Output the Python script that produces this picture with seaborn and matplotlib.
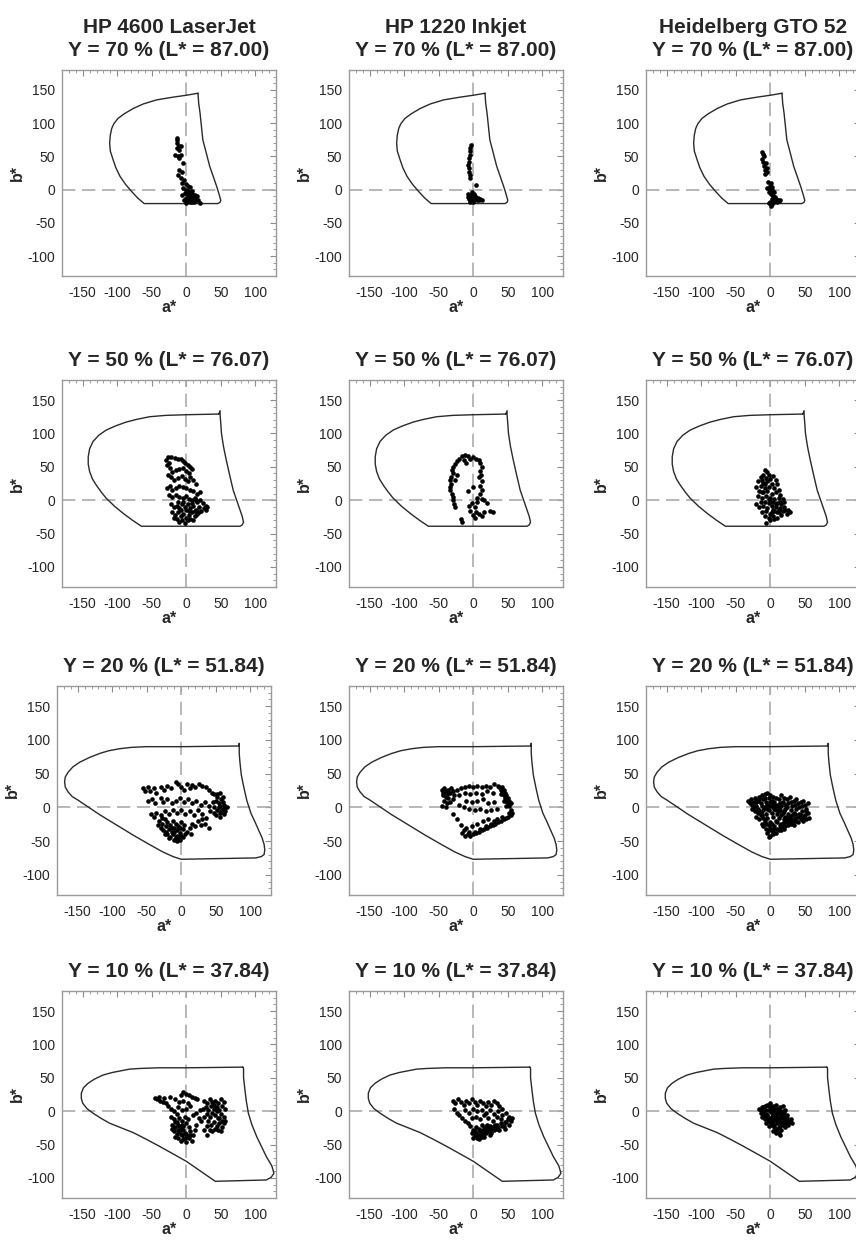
import matplotlib
matplotlib.use("Agg")
import matplotlib.pyplot as plt
import seaborn as sns
from matplotlib.ticker import MultipleLocator

# ==========================================
# Labels
# ==========================================
devices = ["HP 4600 LaserJet", "HP 1220 Inkjet", "Heidelberg GTO 52"]
levels = ["Y = 70 % (L* = 87.00)", "Y = 50 % (L* = 76.07)",
          "Y = 20 % (L* = 51.84)", "Y = 10 % (L* = 37.84)"]
x_ticks = [-150, -100, -50, 0, 50, 100]
y_ticks = [-100, -50, 0, 50, 100, 150]

# ==========================================
# Gamut boundaries (a*, b*) per lightness slice
# ==========================================
gamut_87 = [(17, 145), (0, 142), (-20, 139), (-43, 135), (-62, 129), (-77, 122),
            (-90, 114), (-99, 107), (-105, 99), (-108, 92), (-110, 82), (-111, 70),
            (-110, 58), (-106, 45), (-102, 33), (-96, 20), (-88, 8), (-79, -3),
            (-70, -13), (-61, -21), (46, -21), (49, -19), (50, -16), (47, -5),
            (44, 5), (39, 20), (34, 35), (29, 55), (24, 75), (22, 95), (20, 115),
            (18, 130), (17, 145)]
gamut_76 = [(47, 129), (0, 128), (-30, 127), (-53, 125), (-72, 121), (-87, 117),
            (-103, 111), (-116, 105), (-127, 97), (-135, 88), (-140, 77), (-142, 65),
            (-142, 54), (-140, 43), (-136, 32), (-130, 22), (-123, 12), (-116, 3),
            (-104, -9), (-91, -20), (-78, -30), (-65, -39), (78, -39), (81, -37),
            (83, -33), (81, -24), (78, -15), (73, 0), (68, 15), (63, 37), (58, 60),
            (54, 80), (51, 100), (50, 115), (49, 128), (49, 134), (47, 129)]
gamut_52 = [(84, 91), (0, 90), (-51, 90), (-72, 89), (-89, 87), (-105, 84),
            (-118, 80), (-133, 74), (-147, 67), (-157, 60), (-164, 52), (-168, 45),
            (-169, 38), (-168, 30), (-164, 23), (-158, 16), (-150, 11), (-134, 0),
            (-118, -11), (-94, -26), (-70, -41), (-48, -54), (-27, -66), (-12, -73),
            (-3, -76), (0, -77), (108, -75), (116, -73), (120, -70), (121, -63),
            (120, -55), (117, -45), (113, -36), (107, -22), (101, -9), (95, 10),
            (91, 28), (87, 48), (85, 67), (84, 80), (84, 91), (84, 95), (83, 91)]
gamut_38 = [(82, 66), (0, 65), (-40, 65), (-67, 64), (-82, 63), (-92, 61),
            (-107, 58), (-121, 54), (-133, 48), (-142, 42), (-149, 35), (-152, 27),
            (-152, 19), (-150, 12), (-144, 4), (-135, -3), (-123, -11), (-111, -18),
            (-94, -25), (-77, -32), (-58, -42), (-38, -53), (-19, -64), (0, -75),
            (21, -90), (42, -105), (116, -103), (123, -99), (127, -93), (124, -82),
            (116, -68), (109, -53), (102, -38), (95, -20), (90, -3), (87, 15),
            (85, 32), (83, 50), (83, 64), (82, 66)]

# ==========================================
# Measured samples (a*, b*)
# ==========================================
laser_87 = [(-14, 78), (-13, 74), (-14, 70), (-11, 66), (-8, 65), (-14, 62), (-10, 60),
            (-17, 52), (-12, 50), (-7, 52), (-10, 47), (-5, 40), (-10, 30), (-6, 26),
            (-12, 22), (-8, 18), (-3, 15), (-6, 10), (-1, 8), (2, 6), (5, 4), (-4, 2),
            (0, 0), (3, -2), (6, -3), (-2, -5), (1, -7), (4, -8), (8, -6), (10, -9),
            (-1, -12), (3, -13), (6, -12), (9, -14), (12, -12), (14, -15), (2, -17),
            (5, -18), (8, -19), (0, -20), (11, -18), (17, -16), (20, -20), (-3, -16),
            (7, -10), (13, -8), (-6, -8), (15, -10), (1, -3), (9, -2)]
inkjet_87 = [(-3, 67), (-5, 63), (-4, 58), (-5, 52), (-6, 47), (-6, 42), (-7, 37),
             (-6, 32), (-6, 27), (-5, 22), (-4, 17), (4, 7), (-7, -6), (-5, -8),
             (-3, -9), (-8, -11), (-4, -12), (-1, -11), (2, -10), (4, -13), (7, -12),
             (10, -14), (12, -16), (-2, -15), (0, -17), (-4, -18), (-6, -14), (1, -6),
             (-2, -4), (5, -15), (8, -15), (-1, -19)]
offset_87 = [(-12, 57), (-11, 53), (-9, 50), (-12, 46), (-10, 42), (-6, 40), (-9, 36),
             (-5, 33), (-8, 30), (-4, 27), (-7, 24), (-3, 12), (1, 10), (-1, 6), (3, 4),
             (-4, 2), (0, 0), (3, -1), (6, -3), (-2, -4), (1, -7), (4, -9), (7, -11),
             (9, -14), (11, -15), (13, -17), (5, -16), (2, -14), (0, -18), (-2, -20),
             (3, -22), (1, -25), (6, -19), (8, -17), (14, -16), (10, -18)]

laser_76 = [(-30, 60), (-27, 64), (-22, 65), (-17, 63), (-12, 62), (-8, 61), (-4, 59),
            (-2, 56), (3, 53), (6, 50), (8, 46), (-25, 55), (-28, 52), (-24, 48),
            (-20, 42), (-15, 45), (-10, 47), (-4, 48), (0, 44), (4, 40), (-26, 38),
            (-22, 34), (-18, 30), (-12, 33), (-6, 36), (-2, 32), (2, 28), (6, 34),
            (10, 30), (14, 25), (-24, 22), (-28, 18), (-20, 15), (-15, 18), (-10, 22),
            (-5, 20), (0, 18), (5, 16), (10, 14), (15, 10), (20, 12), (-25, 8), (-20, 5),
            (-15, 8), (-10, 5), (-5, 3), (0, 6), (4, 2), (8, 0), (12, 4), (16, -2),
            (20, 0), (24, -4), (28, -8), (-22, -5), (-18, -10), (-14, -8), (-10, -12),
            (-6, -6), (-2, -10), (2, -5), (6, -12), (10, -8), (14, -14), (18, -10),
            (22, -16), (26, -12), (-20, -18), (-16, -22), (-12, -18), (-8, -24),
            (-4, -20), (0, -26), (4, -22), (8, -18), (12, -24), (16, -20), (-14, -28),
            (-10, -32), (-6, -30), (-2, -34), (2, -30), (6, -28), (10, -30), (-18, -26),
            (-8, -14), (-4, -2), (0, -14), (4, -16), (8, -4), (12, -16), (-12, -2),
            (14, 0), (18, -18), (28, -14), (30, -10)]
inkjet_76 = [(-16, 66), (-12, 68), (-8, 66), (-4, 62), (0, 64), (4, 62), (8, 60),
             (10, 55), (12, 50), (10, 44), (-20, 62), (-24, 58), (-27, 54), (-29, 50),
             (-31, 45), (-30, 40), (-32, 35), (-33, 30), (-32, 25), (-34, 20), (-33, 15),
             (-31, 10), (-30, 5), (-30, 0), (-28, -5), (-26, -10), (11, 38), (8, 34),
             (12, 28), (10, 22), (12, 16), (10, 10), (6, 4), (12, 2), (16, 0), (0, 20),
             (-8, 14), (-2, -4), (-6, -8), (2, -10), (-4, -16), (4, -18), (-1, -22),
             (3, -26), (8, -20), (12, -24), (-18, -28), (-16, -32), (16, -18), (20, -4),
             (24, -16), (28, -18), (6, -2), (-10, 56), (-14, 60), (-24, 38), (-27, 30)]
offset_76 = [(-8, 45), (-4, 42), (-10, 38), (-2, 38), (4, 36), (-14, 34), (-6, 33),
             (0, 32), (8, 30), (-18, 28), (-10, 26), (-4, 28), (2, 25), (10, 24),
             (-20, 20), (-14, 22), (-8, 18), (-2, 20), (6, 18), (12, 16), (-16, 14),
             (-10, 12), (-4, 14), (2, 10), (8, 12), (14, 8), (-18, 6), (-12, 4), (-6, 6),
             (0, 4), (6, 2), (12, 4), (18, 2), (-14, -2), (-8, -2), (-2, -4), (4, -2),
             (10, -4), (16, -6), (20, -2), (-16, -10), (-10, -8), (-4, -12), (2, -8),
             (8, -10), (14, -12), (20, -10), (26, -14), (-12, -18), (-6, -16), (0, -20),
             (6, -16), (12, -18), (18, -16), (24, -20), (28, -18), (-8, -24), (-2, -26),
             (4, -24), (10, -26), (16, -22), (-6, -34), (0, -30), (6, -28), (12, -14),
             (-12, 12), (-20, -6), (0, -2), (8, -6), (4, -14), (10, -18), (14, -2),
             (22, -14), (2, -18), (-2, 2), (-8, 24), (-12, 30)]

laser_52 = [(-55, 28), (-52, 25), (-48, 30), (-45, 24), (-40, 28), (-36, 22), (-30, 30),
            (-25, 26), (-20, 32), (-15, 28), (-8, 38), (-4, 35), (0, 30), (4, 26),
            (8, 34), (12, 28), (16, 33), (20, 30), (25, 35), (30, 32), (36, 30), (40, 26),
            (45, 22), (-48, 10), (-42, 12), (-38, 6), (-30, 14), (-26, 8), (-20, 12),
            (-14, 6), (-8, 10), (-2, 14), (4, 8), (10, 12), (16, 6), (22, 10), (28, 4),
            (34, 8), (40, 2), (-44, -10), (-40, -14), (-36, -8), (-30, -12), (-24, -6),
            (-18, -10), (-12, -4), (-6, -8), (0, -4), (6, -10), (12, -6), (18, -12),
            (24, -4), (30, -10), (36, -16), (42, -6), (48, 20), (52, 16), (56, 22),
            (50, 10), (54, 6), (58, 12), (62, 4), (48, 0), (52, -4), (56, -8), (60, -2),
            (64, -6), (66, 0), (50, -12), (56, -14), (46, 8), (58, -6), (62, -10),
            (54, 0), (60, 16), (-32, -20), (-28, -24), (-24, -18), (-20, -22),
            (-16, -26), (-12, -20), (-8, -24), (-4, -28), (0, -22), (4, -26), (-30, -30),
            (-26, -34), (-22, -28), (-18, -32), (-14, -36), (-10, -30), (-6, -34),
            (-2, -38), (2, -32), (-20, -40), (-16, -44), (-12, -40), (-8, -44),
            (-4, -46), (0, -42), (-10, -48), (-6, -50), (-2, -48), (8, -36), (12, -30),
            (16, -24), (20, -28), (24, -20), (28, -26), (14, -40), (-24, -40),
            (35, -24), (40, -30), (30, -18), (-28, -16), (-22, -36), (-18, -46),
            (-14, -30), (-6, -42), (-2, -30), (2, -44), (6, -40), (-10, -36),
            (-34, -26), (52, 20), (56, 2), (62, -2), (48, -8), (60, 8)]
inkjet_52 = [(-46, 26), (-44, 22), (-42, 28), (-40, 24), (-38, 20), (-36, 26), (-34, 22),
             (-32, 28), (-30, 24), (-44, 18), (-40, 16), (-36, 14), (-42, 10), (-38, 6),
             (-34, 8), (-46, 2), (-40, 0), (-30, 12), (-28, 18), (-24, 26), (-18, 28),
             (-12, 30), (-6, 32), (0, 30), (6, 32), (12, 30), (18, 32), (24, 30), (30, 34),
             (36, 32), (-20, 18), (-12, 22), (-4, 20), (4, 22), (12, 20), (20, 24),
             (28, 22), (38, 30), (40, 26), (42, 22), (44, 18), (46, 14), (48, 10),
             (50, 6), (52, 2), (54, -4), (56, -8), (54, -12), (50, -14), (42, 30),
             (44, 26), (46, 22), (48, 18), (50, 14), (52, 10), (55, 6), (40, 20),
             (44, 10), (48, 2), (52, -8), (-10, 10), (-2, 8), (6, 10), (14, 12), (22, 6),
             (30, 8), (-20, 4), (-14, 0), (-6, -2), (2, -4), (10, -2), (18, -6), (26, -4),
             (34, -2), (-30, -10), (-24, -18), (-18, -26), (-10, -30), (-2, -28),
             (6, -24), (14, -20), (22, -18), (30, -20), (-16, -38), (-12, -42),
             (-8, -40), (-4, -42), (0, -40), (4, -38), (8, -36), (12, -34), (16, -32),
             (20, -30), (24, -28), (28, -26), (32, -24), (36, -22), (40, -20), (44, -18),
             (48, -16), (-14, -34), (-6, -36), (2, -36), (10, -32), (18, -28),
             (26, -24), (34, -18), (42, -14)]
offset_52 = [(-32, 10), (-30, 6), (-28, 12), (-26, 4), (-24, 8), (-22, 14), (-20, 2),
             (-18, 10), (-16, 16), (-14, 6), (-12, 18), (-10, 12), (-8, 20), (-6, 8),
             (-4, 22), (-2, 14), (0, 18), (2, 10), (4, 16), (6, 8), (8, 14), (10, 4),
             (12, 12), (14, 6), (16, 18), (18, 8), (20, 14), (22, 4), (24, 12), (26, 6),
             (28, 16), (30, 8), (32, 2), (34, 10), (36, 4), (38, 12), (40, 6), (42, 0),
             (44, 8), (46, 2), (48, 10), (50, 4), (52, -2), (54, 6), (-26, -2),
             (-22, -6), (-18, -2), (-14, -8), (-10, -4), (-6, -10), (-2, -4), (2, -8),
             (6, -2), (10, -10), (14, -4), (18, -8), (22, -2), (26, -10), (30, -4),
             (34, -8), (38, -2), (42, -10), (46, -6), (50, -12), (54, -8), (56, -16),
             (-20, -14), (-16, -18), (-12, -12), (-8, -20), (-4, -16), (0, -22),
             (4, -14), (8, -20), (12, -16), (16, -24), (20, -18), (24, -22), (28, -14),
             (32, -20), (36, -16), (40, -22), (44, -18), (48, -20), (52, -18),
             (-10, -28), (-6, -32), (-2, -26), (2, -34), (6, -28), (10, -32), (14, -26),
             (18, -30), (22, -28), (26, -26), (30, -24), (34, -26), (-4, -38), (0, -42),
             (4, -36), (8, -38), (12, -34), (-2, -44), (16, -34), (20, -32), (0, 2),
             (-4, 4), (4, 0), (8, -4), (-8, 0), (12, 0), (16, 2), (20, -6), (24, 0),
             (-12, -24), (-16, -6), (-28, 6), (-24, 0), (-20, 8), (-16, 12), (-12, 2),
             (-8, 14), (-4, -2), (0, 8), (4, 4), (8, 2), (12, -6), (16, -12), (20, -22),
             (24, -16), (28, -20), (32, -12), (36, -10), (40, -14), (44, -12), (48, -14),
             (52, -6), (6, -32), (10, -22), (14, -30), (2, -24), (-2, -34), (-6, -24),
             (-10, -16), (-14, -12), (-18, -8), (0, -30), (4, -40), (18, -24), (22, -14),
             (26, -18), (30, -18), (34, -20), (38, -20)]

laser_38 = [(-46, 20), (-42, 18), (-38, 16), (-34, 14), (-30, 12), (-26, 8), (-22, 4),
            (-18, 0), (-14, -4), (-40, 22), (-32, 20), (-24, 22), (-16, 18), (-8, 24),
            (-4, 28), (0, 26), (4, 24), (8, 22), (12, 20), (16, 18), (-10, 14), (-4, 16),
            (2, 12), (6, 8), (-12, 6), (-6, 2), (0, 4), (-22, -8), (-18, -12),
            (-14, -16), (-10, -10), (-6, -14), (-2, -8), (2, -12), (-20, -20),
            (-16, -24), (-12, -20), (-8, -26), (-4, -22), (0, -18), (4, -24), (-18, -30),
            (-14, -34), (-10, -30), (-6, -36), (-2, -32), (2, -38), (6, -30), (-12, -40),
            (-8, -44), (-4, -42), (0, -46), (4, -40), (8, -44), (10, -36), (12, -28),
            (14, -20), (-16, -38), (10, -6), (14, -2), (18, -10), (20, 2), (22, -14),
            (26, 16), (30, 12), (34, 18), (38, 14), (42, 16), (46, 12), (50, 18),
            (54, 14), (28, 6), (32, 2), (36, 8), (40, 4), (44, 6), (48, 2), (52, 8),
            (56, 4), (30, -4), (34, -8), (38, -2), (42, -6), (46, -10), (50, -4),
            (54, -8), (56, -14), (32, -14), (36, -20), (40, -16), (44, -22), (48, -18),
            (52, -24), (34, -28), (38, -30), (42, -26), (30, -22), (26, -8), (24, 4),
            (50, -30), (46, -28), (55, -18), (25, -28), (30, -36), (-20, -26),
            (-16, -16), (-12, -28), (-8, -34), (-4, -28), (-2, -40), (0, -34),
            (6, -36), (-10, -22), (-6, -20), (44, 0), (48, -10), (52, -14), (40, 10)]
inkjet_38 = [(-30, 16), (-26, 12), (-22, 18), (-18, 14), (-14, 10), (-10, 16), (-6, 12),
             (-2, 18), (2, 14), (6, 10), (10, 16), (14, 12), (18, 8), (22, 14), (26, 10),
             (30, 16), (34, 12), (38, 8), (42, 4), (-28, 4), (-24, -2), (-20, -6),
             (-16, -10), (-12, -14), (-8, -18), (-4, -22), (-12, 2), (-6, -2), (0, 4),
             (6, 0), (12, 2), (18, -2), (24, 2), (30, -4), (36, 0), (42, -6), (48, -2),
             (52, -8), (-2, -10), (4, -8), (10, -12), (16, -6), (22, -10), (28, -14),
             (34, -8), (40, -12), (46, -16), (54, -14), (0, -28), (4, -32), (8, -26),
             (12, -30), (16, -24), (20, -28), (24, -22), (28, -26), (32, -20), (36, -24),
             (40, -18), (44, -22), (48, -16), (52, -20), (2, -36), (6, -40), (10, -36),
             (14, -34), (18, -32), (22, -30), (26, -32), (30, -28), (34, -26), (38, -28),
             (42, -22), (8, -42), (4, -24), (12, -20), (20, -20), (-2, -32), (0, -40),
             (16, -38), (24, -36), (46, -26), (50, -12), (56, -10), (6, -34),
             (10, -30), (14, -28), (18, -26), (22, -24), (26, -26), (30, -22),
             (34, -20), (2, -30), (8, -38), (12, -38)]
offset_38 = [(-16, 4), (-14, -2), (-12, 6), (-10, 0), (-8, 8), (-6, -4), (-4, 10),
             (-2, 2), (0, 12), (2, -2), (4, 8), (6, 0), (8, 10), (10, 4), (12, -2),
             (14, 6), (16, 0), (18, 8), (20, -4), (22, 2), (24, -6), (-12, -8),
             (-8, -12), (-4, -6), (0, -10), (4, -14), (8, -6), (12, -12), (16, -8),
             (20, -14), (24, -10), (28, -16), (30, -12), (32, -18), (-6, -18), (-2, -22),
             (2, -16), (6, -24), (10, -18), (14, -22), (18, -20), (22, -24), (26, -20),
             (4, -30), (8, -28), (12, -32), (16, -28), (14, -36), (10, -26), (0, 0),
             (6, 4), (10, -8), (2, 6), (-10, -4), (18, -10), (6, -12), (-14, 2),
             (-10, 6), (-6, 2), (-2, 8), (2, 2), (4, -4), (8, -2), (12, 2), (16, -4),
             (20, 0), (-8, -6), (-2, -14), (2, -20), (6, -20), (10, -14), (14, -16),
             (18, -16), (22, -18), (26, -14), (-4, -12), (0, -16), (8, -32), (12, -24),
             (20, -8), (24, -14), (-12, 0), (-6, -10), (2, -8), (6, -8), (10, 0),
             (14, -10)]

gamuts = [gamut_87, gamut_76, gamut_52, gamut_38]
samples = [[laser_87, inkjet_87, offset_87],
           [laser_76, inkjet_76, offset_76],
           [laser_52, inkjet_52, offset_52],
           [laser_38, inkjet_38, offset_38]]

# ==========================================
# Style
# ==========================================
sns.set_theme(style="white")
plt.rcParams["font.family"] = ["Liberation Sans", "DejaVu Sans"]
plt.rcParams["axes.unicode_minus"] = False

W, H = 856, 1241
fig = plt.figure(figsize=(W / 100, H / 100), dpi=100)

col_left = [62, 349, 646]
row_top = [70, 380, 686, 991]
row_bottom = [276, 587, 895, 1198]
ax_w = 214

for r in range(4):
    for c in range(3):
        left = col_left[c]
        if r == 2 and c == 0:
            left = 57
        top, bottom = row_top[r], row_bottom[r]
        ax = fig.add_axes([left / W, 1 - bottom / H, ax_w / W, (bottom - top) / H])

        ax.axhline(0, color="#ababab", lw=1.2, ls=(0, (8, 4)), zorder=1)
        ax.axvline(0, color="#ababab", lw=1.2, ls=(0, (8, 4)), zorder=1)

        ga = [p[0] for p in gamuts[r]]
        gb = [p[1] for p in gamuts[r]]
        sns.lineplot(x=ga, y=gb, sort=False, estimator=None, ax=ax,
                     color="#2a2a2a", lw=1.0, zorder=2)

        pts = samples[r][c]
        sns.scatterplot(x=[p[0] for p in pts], y=[p[1] for p in pts], ax=ax,
                        color="black", s=11, linewidth=0, legend=False, zorder=3)

        ax.set_xlim(-180, 130)
        ax.set_ylim(-130, 180)
        ax.set_xticks(x_ticks)
        ax.set_yticks(y_ticks)
        ax.xaxis.set_minor_locator(MultipleLocator(10))
        ax.yaxis.set_minor_locator(MultipleLocator(10))
        ax.tick_params(which="both", direction="in", top=True, right=True,
                       color="#8c8c8c", labelsize=10, labelcolor="#262626")
        ax.tick_params(axis="x", which="major", length=4, width=0.8, pad=7)
        ax.tick_params(axis="y", which="major", length=4, width=0.8, pad=5)
        ax.tick_params(which="minor", length=2, width=0.6)
        for sp in ax.spines.values():
            sp.set_color("#9a9a9a")
            sp.set_linewidth(1.0)

        ax.set_xlabel("a*", fontsize=11.5, fontweight="bold", labelpad=0)
        ax.set_ylabel("b*", fontsize=11.5, fontweight="bold", labelpad=2)

        title = levels[r]
        if r == 0:
            title = devices[c] + "\n" + levels[r]
        ax.set_title(title, fontsize=15, fontweight="bold", pad=10, linespacing=1.3)

fig.savefig("out.png", dpi=100)
